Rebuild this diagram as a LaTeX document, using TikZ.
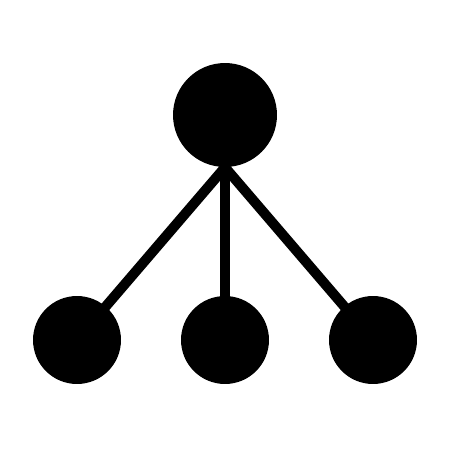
\documentclass[tikz,border=0pt]{standalone}
\usepackage{tikz}
\usetikzlibrary {positioning}
\newcommand{\myDot}[4]{
    \node[dot,minimum size=#3] (#4) at (#1,#2) {};
}
\tikzset{
  dot/.style={circle,fill=black,inner sep=0pt},
  link/.style={line width=5.7pt}
}

\begin{document}
\begin{tikzpicture}[x=0.02cm,y=-0.02cm]
      \useasboundingbox (0,0) rectangle (450,450);
      \myDot{225}{115}{2.08cm}{top}

      \myDot{77}{340}{1.76cm}{left}
      \myDot{225}{340}{1.76cm}{mid}
      \myDot{373}{340}{1.76cm}{right}

      \draw[link] (top.south) -- (left.center);
      \draw[link] (top.south) -- (mid.center);
      \draw[link] (top.south) -- (right.center);
  \end{tikzpicture}
\end{document}
